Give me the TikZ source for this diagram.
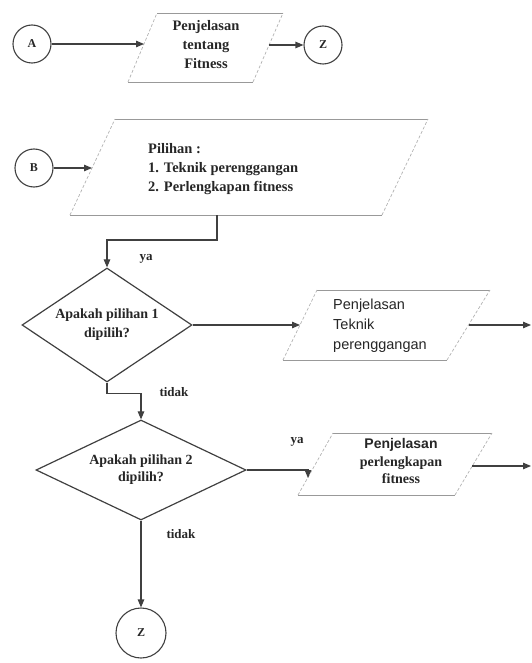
\documentclass[tikz,border=0pt]{standalone}
\usepackage{fontspec}
\setmainfont{Liberation Serif}
\newfontfamily\sansf{Liberation Sans}
\usetikzlibrary{shapes.geometric,arrows.meta}
\begin{document}
\begin{tikzpicture}[x=1pt,y=-1pt,
  line/.style={draw=black!75, line width=1.1pt},
  arr/.style={line, -{Triangle[length=8pt,width=6.5pt]}},
  conn/.style={draw=black!75, line width=1.1pt, circle, minimum size=38pt, inner sep=0pt, font=\bfseries\fontsize{12}{14}\selectfont, text=black!85},
  dec/.style={draw=black!75, line width=1.2pt, diamond, inner sep=0pt},
  dtxt/.style={align=center, inner sep=0pt, font=\bfseries\fontsize{14}{19}\selectfont, text=black!85},
  io/.style={draw=black!40, line width=0.8pt},
  ioside/.style={draw=black!30, line width=0.7pt, dash pattern=on 3pt off 2pt},
  txt/.style={font=\bfseries\fontsize{14.5}{19}\selectfont, text=black!85, inner sep=0pt},
  stxt/.style={font=\sansf\fontsize{14.5}{20}\selectfont, text=black!85, inner sep=0pt},
  lbl/.style={font=\bfseries\fontsize{13}{15}\selectfont, text=black!85, inner sep=0pt}
]
\useasboundingbox (0,0) rectangle (531,663);

% ---------- top row ----------
\node[conn] (A) at (32,44) {A};
\node[conn] (Z1) at (323,45) {Z};
\coordinate (b1bl) at (128,82);
\coordinate (b1br) at (253,82);
\coordinate (b1tr) at (283,13);
\coordinate (b1tl) at (157,13);
\draw[io] (b1tl) -- (b1tr);
\draw[io] (b1bl) -- (b1br);
\draw[ioside] (b1bl) -- (b1tl);
\draw[ioside] (b1br) -- (b1tr);
\coordinate (b1in) at (144,44);
\coordinate (b1out) at (269,45);
\node[txt, align=center] (t1) at (206,45) {Penjelasan\\tentang\\Fitness};
\draw[arr] (A) -- (b1in);
\draw[arr] (b1out) -- (Z1);

% ---------- B section ----------
\node[conn] (B) at (34,168) {B};
\coordinate (b2bl) at (70,215);
\coordinate (b2br) at (382,215);
\coordinate (b2tr) at (428,119);
\coordinate (b2tl) at (115,119);
\draw[io] (b2tl) -- (b2tr);
\draw[io] (b2bl) -- (b2br);
\draw[ioside] (b2bl) -- (b2tl);
\draw[ioside] (b2br) -- (b2tr);
\coordinate (b2in) at (92,168);
\coordinate (b2out) at (217,215);
\node[txt, align=left, anchor=west] (t2) at (148,169) {Pilihan :\\1. Teknik perenggangan\\2. Perlengkapan fitness};
\draw[arr] (B) -- (b2in);

% decision 1
\node[dec, minimum width=170pt, minimum height=114pt] (D1) at (107,325) {};
\node[dtxt] (D1t) at (D1) {Apakah pilihan 1\\dipilih?};
\draw[arr] (b2out) -- ++(0,25) -| (D1.north);
\node[lbl] (ya1) at (146,259) {ya};

% box 3
\coordinate (b3bl) at (283,360);
\coordinate (b3br) at (447,360);
\coordinate (b3tr) at (490,290);
\coordinate (b3tl) at (317,290);
\draw[io] (b3tl) -- (b3tr);
\draw[io] (b3bl) -- (b3br);
\draw[ioside] (b3bl) -- (b3tl);
\draw[ioside] (b3br) -- (b3tr);
\coordinate (b3in) at (300,325);
\coordinate (b3out) at (469,325);
\coordinate (out1) at (531,325);
\node[stxt, align=left, anchor=west] (t3) at (333,326) {Penjelasan\\Teknik\\perenggangan};
\draw[arr] (D1.east) -- (b3in);
\draw[arr] (b3out) -- (out1);

% decision 2
\node[dec, minimum width=210pt, minimum height=100pt] (D2) at (141,470) {};
\node[dtxt, font=\bfseries\fontsize{14}{17}\selectfont] (D2t) at (D2) {Apakah pilihan 2\\dipilih?};
\draw[arr] (D1.south) -- ++(0,11) -| (D2.north);
\node[lbl] (tidak1) at (174,392) {tidak};

% box 4
\coordinate (b4bl) at (298,495);
\coordinate (b4br) at (455,495);
\coordinate (b4tr) at (492,433);
\coordinate (b4tl) at (333,433);
\draw[io] (b4tl) -- (b4tr);
\draw[io] (b4bl) -- (b4br);
\draw[ioside] (b4bl) -- (b4tl);
\draw[ioside] (b4br) -- (b4tr);
\coordinate (b4in) at (308,478);
\coordinate (b4out) at (472,466);
\coordinate (out2) at (531,466);
\node[txt, align=center, font=\bfseries\fontsize{14}{17.5}\selectfont] (t4) at (401,461) {{\sansf Penjelasan}\\perlengkapan\\fitness};
\draw[arr] (D2.east) -| (b4in);
\draw[arr] (b4out) -- (out2);
\node[lbl] (ya2) at (297,442) {ya};

% bottom connector
\node[conn, minimum size=50pt] (Z2) at (141,633) {Z};
\draw[arr] (D2.south) -- (Z2.north);
\node[lbl] (tidak2) at (181,534) {tidak};
\end{tikzpicture}
\end{document}
